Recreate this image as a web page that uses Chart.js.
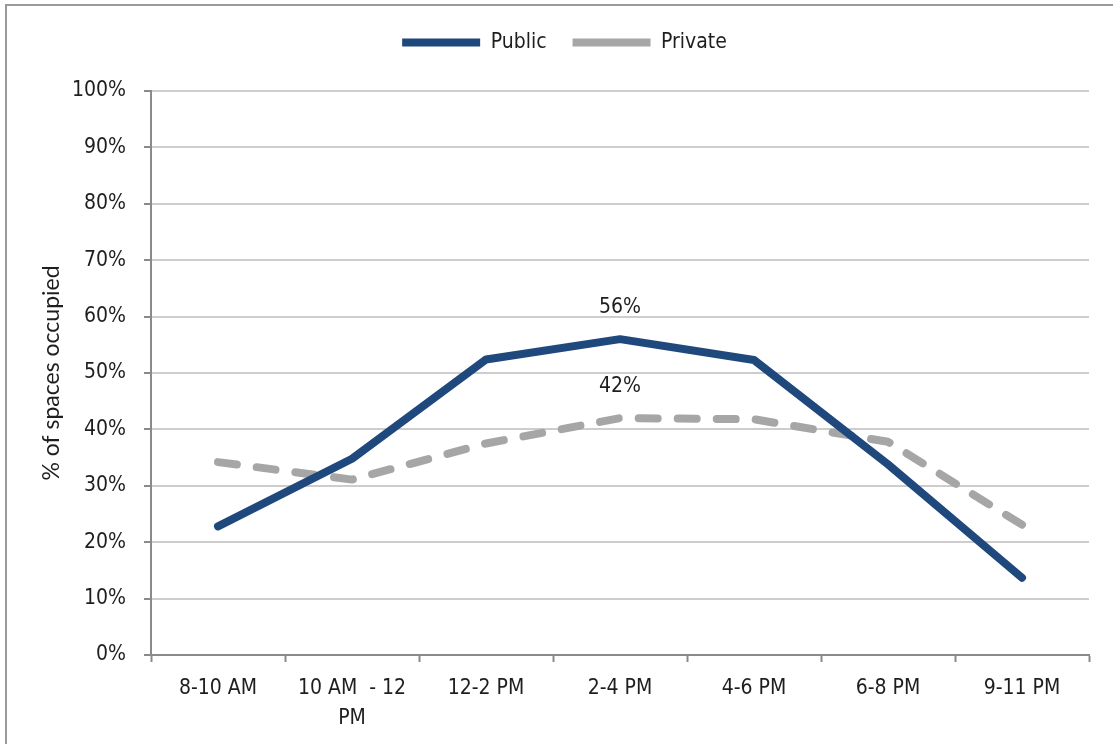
<!DOCTYPE html>
<html>
<head>
<meta charset="utf-8">
<title>Parking occupancy by time of day</title>
<script src="https://cdn.jsdelivr.net/npm/chart.js@4/dist/chart.umd.min.js"></script>
<style>
  html, body { margin: 0; padding: 0; background: #ffffff; }
  #wrap { width: 1113px; height: 744px; position: relative; }
  canvas { display: block; }
</style>
</head>
<body>
<div id="wrap"><canvas id="chart" width="1113" height="744"></canvas></div>
<script>
// Time periods along the x axis
const periods = ['8-10 AM', ['10 AM  - 12', 'PM'], '12-2 PM', '2-4 PM', '4-6 PM', '6-8 PM', '9-11 PM'];

// Share of spaces occupied (%) per period
const publicOccupancy  = [22.8, 34.8, 52.4, 56, 52.3, 33.8, 13.7];
const privateOccupancy = [34.2, 31.1, 37.5, 42, 41.8, 37.8, 23.1];

// Periods whose value is printed above the line
const labelledPeriods = [3];

// Y axis ticks
const yTicks = [0, 10, 20, 30, 40, 50, 60, 70, 80, 90, 100];

const NARROW = '"DejaVu Sans Condensed", "Liberation Sans Narrow", sans-serif';
const TEXT = '#1e1e1e';
const AXIS = '#8a8a8a';
const GRID = '#cdcdcd';

// Frame around the chart (top and left edges fall inside the canvas)
const framePlugin = {
  id: 'frame',
  beforeDraw(chart) {
    const ctx = chart.ctx;
    ctx.save();
    ctx.strokeStyle = '#9a9a9a';
    ctx.lineWidth = 2;
    ctx.beginPath();
    ctx.moveTo(6, chart.height);
    ctx.lineTo(6, 5);
    ctx.lineTo(chart.width, 5);
    ctx.stroke();
    ctx.restore();
  }
};

// Extra space between the legend row and the plot
const legendGap = {
  id: 'legendGap',
  beforeLayout(chart) {
    const lg = chart.legend;
    if (lg && !lg._gapWrapped) {
      const fit = lg.fit;
      lg.fit = function () {
        fit.call(this);
        this.height += 28;
      };
      lg._gapWrapped = true;
    }
  }
};

// Value labels above selected points
const valueLabels = {
  id: 'valueLabels',
  afterDatasetsDraw(chart) {
    const ctx = chart.ctx;
    ctx.save();
    ctx.font = '21px ' + NARROW;
    ctx.fillStyle = TEXT;
    ctx.textAlign = 'center';
    ctx.textBaseline = 'middle';
    chart.data.datasets.forEach((ds, di) => {
      const meta = chart.getDatasetMeta(di);
      labelledPeriods.forEach(i => {
        const pt = meta.data[i];
        ctx.fillText(Math.round(ds.data[i]) + '%', pt.x, pt.y - 32);
      });
    });
    ctx.restore();
  }
};

new Chart(document.getElementById('chart'), {
  type: 'line',
  data: {
    labels: periods,
    datasets: [
      {
        label: 'Public',
        data: publicOccupancy,
        borderColor: '#1f497d',
        backgroundColor: '#1f497d',
        borderWidth: 8,
        borderCapStyle: 'round',
        borderJoinStyle: 'round',
        pointRadius: 0,
        tension: 0,
        fill: false
      },
      {
        label: 'Private',
        data: privateOccupancy,
        borderColor: '#a6a6a6',
        backgroundColor: '#a6a6a6',
        borderWidth: 8,
        borderDash: [19, 20],
        borderCapStyle: 'round',
        borderJoinStyle: 'round',
        pointRadius: 0,
        tension: 0,
        fill: false
      }
    ]
  },
  options: {
    responsive: false,
    animation: false,
    devicePixelRatio: 1,
    layout: { padding: { top: 6, left: 40, right: 24, bottom: 0 } },
    plugins: {
      tooltip: { enabled: false },
      legend: {
        position: 'top',
        labels: {
          usePointStyle: true,
          pointStyle: 'line',
          pointStyleWidth: 78,
          padding: 26,
          color: TEXT,
          font: { family: NARROW, size: 21 }
        }
      }
    },
    scales: {
      x: {
        offset: true,
        border: { display: true, color: AXIS, width: 2 },
        grid: {
          offset: true,
          drawOnChartArea: false,
          drawTicks: true,
          tickLength: 7,
          tickColor: AXIS,
          tickWidth: 2
        },
        ticks: {
          color: TEXT,
          font: { family: NARROW, size: 21, lineHeight: 1.4 },
          padding: 12,
          maxRotation: 0,
          autoSkip: false
        },
        afterFit(scale) { scale.height = 89; }
      },
      y: {
        min: 0,
        max: 100,
        border: { display: true, color: AXIS, width: 2 },
        grid: {
          color: GRID,
          lineWidth: 2,
          drawTicks: true,
          tickLength: 7,
          tickColor: AXIS,
          tickWidth: 2
        },
        afterBuildTicks(scale) { scale.ticks = yTicks.map(v => ({ value: v })); },
        ticks: {
          color: TEXT,
          font: { family: NARROW, size: 21 },
          padding: 18,
          callback: v => v + '%'
        },
        title: {
          display: true,
          text: '% of spaces occupied',
          color: TEXT,
          font: { family: 'Lato, "Open Sans", sans-serif', size: 23, lineHeight: 1 },
          padding: { top: 0, bottom: 0 }
        },
        afterFit(scale) { scale.width = 111; }
      }
    }
  },
  plugins: [framePlugin, legendGap, valueLabels]
});
</script>
</body>
</html>
